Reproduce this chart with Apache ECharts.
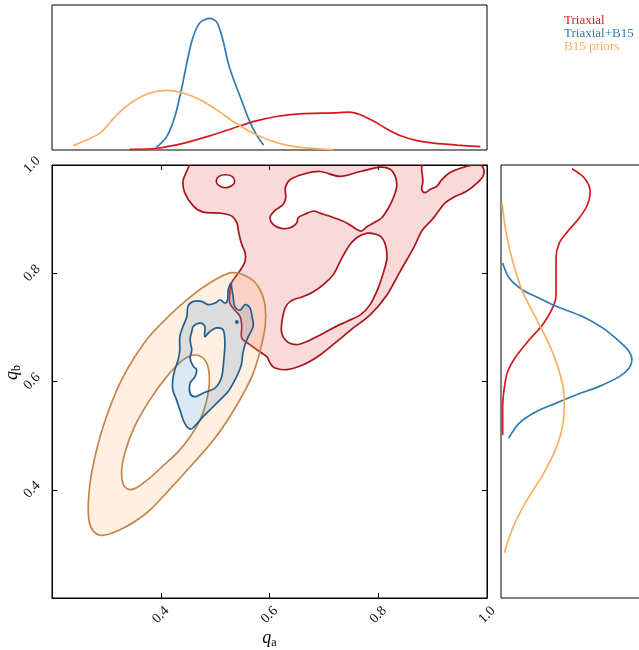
<!DOCTYPE html>
<html><head><meta charset="utf-8">
<script src="https://cdn.jsdelivr.net/npm/echarts@6/dist/echarts.min.js"></script>
<style>html,body{margin:0;padding:0;background:#fff}#c{width:639px;height:650px}</style>
</head><body><div id="c"></div>
<script>
// ---------- data (q_a, q_b values) ----------
const tickValues = [0.2, 0.4, 0.6, 0.8, 1.0];
const seriesNames = ['Triaxial', 'Triaxial+B15', 'B15 priors'];

// 2D contours (outer = 2-sigma, inner = 1-sigma holes)
const redOuter = [[0.469,1.03],[0.448,0.989],[0.441,0.970],[0.444,0.949],[0.460,0.924],[0.478,0.913],[0.509,0.911],[0.530,0.906],[0.540,0.893],[0.544,0.872],[0.549,0.853],[0.555,0.838],[0.555,0.822],[0.549,0.810],[0.543,0.801],[0.530,0.782],[0.527,0.763],[0.527,0.745],[0.536,0.732],[0.546,0.720],[0.549,0.702],[0.549,0.680],[0.564,0.668],[0.582,0.655],[0.595,0.646],[0.601,0.634],[0.610,0.625],[0.632,0.622],[0.662,0.631],[0.693,0.649],[0.724,0.674],[0.754,0.699],[0.785,0.723],[0.816,0.760],[0.840,0.803],[0.865,0.847],[0.880,0.878],[0.899,0.899],[0.911,0.915],[0.923,0.930],[0.938,0.940],[0.963,0.952],[0.982,0.967],[0.993,0.980],[0.994,0.992],[0.988,1.0],[0.975,1.0],[0.951,0.994],[0.932,0.986],[0.917,0.973],[0.908,0.961],[0.896,0.955],[0.886,0.949],[0.880,0.955],[0.882,0.970],[0.880,0.989],[0.871,1.03],[0.75,1.04],[0.62,1.04],[0.50,1.04]];
const redHoleUpper = [[0.693,0.988],[0.730,0.979],[0.767,0.988],[0.804,0.996],[0.822,0.992],[0.831,0.980],[0.834,0.961],[0.828,0.940],[0.819,0.921],[0.807,0.903],[0.797,0.896],[0.779,0.886],[0.767,0.878],[0.742,0.893],[0.717,0.903],[0.693,0.911],[0.681,0.915],[0.665,0.909],[0.653,0.903],[0.650,0.893],[0.638,0.884],[0.622,0.883],[0.607,0.890],[0.601,0.903],[0.610,0.916],[0.625,0.927],[0.630,0.940],[0.629,0.958],[0.638,0.973],[0.662,0.983]];
const redHoleLower = [[0.770,0.871],[0.785,0.874],[0.804,0.868],[0.813,0.853],[0.816,0.828],[0.810,0.803],[0.800,0.773],[0.785,0.742],[0.767,0.723],[0.742,0.711],[0.717,0.699],[0.693,0.686],[0.669,0.674],[0.650,0.668],[0.632,0.674],[0.622,0.692],[0.625,0.723],[0.632,0.742],[0.644,0.751],[0.662,0.757],[0.681,0.766],[0.699,0.779],[0.717,0.797],[0.733,0.828],[0.748,0.853],[0.761,0.866]];
const redHoleSmall = [[0.536,0.970],[0.531,0.979],[0.519,0.982],[0.507,0.979],[0.502,0.970],[0.507,0.962],[0.519,0.958],[0.531,0.962]];

const blueOuter = [[0.529,0.782],[0.524,0.769],[0.523,0.751],[0.518,0.745],[0.509,0.751],[0.500,0.745],[0.487,0.742],[0.475,0.748],[0.460,0.748],[0.450,0.739],[0.448,0.720],[0.441,0.702],[0.435,0.683],[0.435,0.658],[0.432,0.640],[0.426,0.622],[0.422,0.603],[0.422,0.585],[0.429,0.566],[0.435,0.548],[0.444,0.523],[0.454,0.512],[0.463,0.518],[0.478,0.535],[0.494,0.551],[0.509,0.566],[0.525,0.583],[0.540,0.610],[0.548,0.630],[0.551,0.652],[0.555,0.668],[0.561,0.683],[0.570,0.702],[0.568,0.720],[0.564,0.736],[0.555,0.742],[0.546,0.732],[0.536,0.739],[0.533,0.757],[0.530,0.776]];
const blueInner = [[0.460,0.702],[0.472,0.708],[0.481,0.702],[0.481,0.683],[0.490,0.692],[0.503,0.699],[0.515,0.695],[0.518,0.671],[0.516,0.640],[0.512,0.609],[0.500,0.588],[0.481,0.580],[0.463,0.572],[0.454,0.578],[0.454,0.597],[0.463,0.609],[0.466,0.622],[0.460,0.628],[0.454,0.643],[0.457,0.658],[0.454,0.677],[0.457,0.692]];
const blueDot = [[0.538,0.710],[0.540,0.712],[0.542,0.710],[0.540,0.708]];

const orangeOuter = [[0.530,0.801],[0.564,0.791],[0.583,0.769],[0.592,0.739],[0.592,0.702],[0.583,0.658],[0.570,0.615],[0.552,0.578],[0.527,0.535],[0.497,0.492],[0.460,0.449],[0.423,0.408],[0.374,0.357],[0.325,0.326],[0.288,0.316],[0.269,0.338],[0.268,0.394],[0.279,0.461],[0.300,0.535],[0.331,0.609],[0.374,0.677],[0.417,0.723],[0.454,0.756],[0.490,0.782]];
const orangeInner = [[0.463,0.649],[0.481,0.640],[0.489,0.615],[0.487,0.578],[0.475,0.535],[0.454,0.498],[0.430,0.468],[0.406,0.446],[0.380,0.422],[0.352,0.402],[0.334,0.405],[0.328,0.431],[0.334,0.468],[0.352,0.517],[0.380,0.566],[0.411,0.609],[0.441,0.640]];

// 1D marginals: top panel [q_a, density], right panel [density, q_b]
const margTopRed = [[0.343,0.004],[0.392,0.012],[0.441,0.046],[0.490,0.097],[0.533,0.150],[0.570,0.196],[0.613,0.231],[0.656,0.249],[0.717,0.256],[0.748,0.261],[0.767,0.243],[0.791,0.200],[0.816,0.145],[0.840,0.100],[0.871,0.065],[0.902,0.048],[0.945,0.034],[0.988,0.023]];
const margTopBlue = [[0.392,0.018],[0.411,0.092],[0.426,0.231],[0.438,0.416],[0.448,0.601],[0.459,0.774],[0.472,0.878],[0.490,0.908],[0.503,0.882],[0.514,0.762],[0.524,0.601],[0.533,0.497],[0.546,0.369],[0.561,0.220],[0.576,0.104],[0.589,0.035]];
const margTopOrange = [[0.239,0.030],[0.288,0.116],[0.319,0.243],[0.349,0.335],[0.380,0.393],[0.411,0.411],[0.441,0.393],[0.472,0.347],[0.503,0.277],[0.533,0.196],[0.564,0.127],[0.595,0.074],[0.625,0.039],[0.656,0.018],[0.717,0.002]];
const margRightRed = [[0.517,0.993],[0.607,0.976],[0.650,0.951],[0.631,0.927],[0.570,0.902],[0.485,0.877],[0.425,0.856],[0.401,0.828],[0.401,0.791],[0.401,0.760],[0.376,0.736],[0.303,0.705],[0.206,0.677],[0.109,0.646],[0.048,0.618],[0.024,0.588],[0.012,0.551],[0.012,0.501]];
const margRightBlue = [[0.012,0.819],[0.060,0.791],[0.157,0.769],[0.279,0.754],[0.401,0.739],[0.594,0.720],[0.740,0.699],[0.862,0.674],[0.934,0.655],[0.954,0.640],[0.934,0.625],[0.862,0.609],[0.716,0.591],[0.546,0.575],[0.401,0.560],[0.255,0.544],[0.133,0.523],[0.055,0.495]];
const margRightOrange = [[0.007,0.930],[0.036,0.877],[0.085,0.822],[0.157,0.766],[0.255,0.717],[0.352,0.668],[0.425,0.618],[0.461,0.569],[0.454,0.526],[0.401,0.477],[0.303,0.427],[0.182,0.378],[0.085,0.329],[0.024,0.283]];

// ---------- styling ----------
const FONT = '"Liberation Serif", "DejaVu Serif", serif';
const COL = {red:'#d7191c', blue:'#2c7bb6', orange:'#fdae61'};
const LINE = {red:'#a8141a', blue:'#235f8e', orange:'#c3874b'};
const FILL = {red:'rgba(215,25,28,0.16)', blue:'rgba(44,123,182,0.17)', orange:'rgba(253,174,97,0.18)'};

function smoothRing(pts){
  const n = pts.length, f = v => v.toFixed(2);
  let s = 'M' + f(pts[0][0]) + ',' + f(pts[0][1]);
  const lim = (t, len) => { const m = Math.hypot(t[0], t[1]); if (m > len * 0.45 && m > 0) { const k = len * 0.45 / m; return [t[0]*k, t[1]*k]; } return t; };
  for (let i = 0; i < n; i++) {
    const p0 = pts[(i-1+n)%n], p1 = pts[i], p2 = pts[(i+1)%n], p3 = pts[(i+2)%n];
    const len = Math.hypot(p2[0]-p1[0], p2[1]-p1[1]);
    const t1 = lim([(p2[0]-p0[0])/6, (p2[1]-p0[1])/6], len);
    const t2 = lim([(p3[0]-p1[0])/6, (p3[1]-p1[1])/6], len);
    s += 'C' + f(p1[0]+t1[0]) + ',' + f(p1[1]+t1[1]) + ',' + f(p2[0]-t2[0]) + ',' + f(p2[1]-t2[1]) + ',' + f(p2[0]) + ',' + f(p2[1]);
  }
  return s + 'Z';
}
function contourSeries(name, rings, key, z){
  return {
    type:'custom', name, coordinateSystem:'cartesian2d', xAxisIndex:1, yAxisIndex:1,
    clip:true, z, silent:true, data:[[0.6,0.6]],
    renderItem:(params, api) => {
      let d = '';
      rings.forEach((ring, i) => {
        let pts = ring.map(p => api.coord(p));
        let a = 0;
        for (let k = 0; k < pts.length; k++) { const p = pts[k], q = pts[(k+1)%pts.length]; a += p[0]*q[1] - q[0]*p[1]; }
        if ((a > 0) !== (i === 0)) pts = pts.slice().reverse();
        d += smoothRing(pts);
      });
      return {type:'path', shape:{pathData:d}, style:{fill:FILL[key], stroke:LINE[key], lineWidth:1.7}};
    }
  };
}
function margLine(name, data, key, xi, yi){
  return {type:'line', name, xAxisIndex:xi, yAxisIndex:yi, data, showSymbol:false, smooth:0.3,
    lineStyle:{color:COL[key], width:1.7}, itemStyle:{color:COL[key]}, z:4};
}

const labelStyle = {fontFamily:FONT, fontSize:14, color:'#111'};
const nameRich = {
  q:{fontFamily:FONT, fontSize:18, fontStyle:'italic', lineHeight:22, verticalAlign:'middle', color:'#000'},
  s:{fontFamily:FONT, fontSize:12, lineHeight:12, verticalAlign:'bottom', color:'#000'}
};
const lo = tickValues[0], hi = tickValues[tickValues.length-1], step = tickValues[1]-tickValues[0];
const mainAxisCommon = {
  type:'value', gridIndex:1, min:lo, max:hi, interval:step,
  axisLine:{show:true, onZero:false, lineStyle:{color:'#000', width:1}},
  axisTick:{show:true, inside:true, length:5, lineStyle:{color:'#000', width:1}},
  splitLine:{show:false}
};

const chart = echarts.init(document.getElementById('c'), null, {renderer:'canvas'});
chart.setOption({
  animation:false,
  backgroundColor:'#fff',
  grid:[
    {left:52, top:5, width:435, height:145, show:true, borderColor:'#000', borderWidth:1, outerBoundsMode:'none', containLabel:false},
    {left:52, top:165, width:435, height:433, show:true, borderColor:'#000', borderWidth:1, outerBoundsMode:'none', containLabel:false},
    {left:501, top:165, width:140, height:433, show:true, borderColor:'#000', borderWidth:1, outerBoundsMode:'none', containLabel:false}
  ],
  legend:{
    orient:'vertical', left:559, top:14, itemWidth:0, itemHeight:13, itemGap:0, icon:'none', padding:0,
    selectedMode:false, textStyle:{fontFamily:FONT, fontSize:13},
    data:[
      {name:seriesNames[0], textStyle:{color:COL.red}},
      {name:seriesNames[1], textStyle:{color:COL.blue}},
      {name:seriesNames[2], textStyle:{color:COL.orange}}
    ]
  },
  xAxis:[
    {type:'value', gridIndex:0, min:lo, max:hi, show:false},
    Object.assign({}, mainAxisCommon, {
      position:'bottom',
      axisLabel:Object.assign({show:true, rotate:45, showMinLabel:false, margin:17, align:'center', verticalAlign:'middle', formatter:v => v.toFixed(1)}, labelStyle),
      name:'{q|q}{s|a}', nameLocation:'middle', nameGap:40, nameMoveOverlap:false,
      nameTextStyle:{align:'center', verticalAlign:'middle', rich:nameRich}
    }),
    Object.assign({}, mainAxisCommon, {position:'top', axisLabel:{show:false}}),
    {type:'value', gridIndex:2, min:0, max:1.02, show:false}
  ],
  yAxis:[
    {type:'value', gridIndex:0, min:0, max:1, show:false},
    Object.assign({}, mainAxisCommon, {
      position:'left',
      axisLabel:Object.assign({show:true, rotate:45, showMinLabel:false, margin:20, align:'center', verticalAlign:'middle', formatter:v => v.toFixed(1)}, labelStyle),
      name:'{q|q}{s|b}', nameLocation:'middle', nameGap:40, nameRotate:90, nameMoveOverlap:false,
      nameTextStyle:{align:'center', verticalAlign:'middle', padding:[0,0,0,18], rich:nameRich}
    }),
    Object.assign({}, mainAxisCommon, {position:'right', axisLabel:{show:false}}),
    {type:'value', gridIndex:2, min:lo, max:hi, show:false}
  ],
  series:[
    contourSeries(seriesNames[0], [redOuter, redHoleUpper, redHoleLower, redHoleSmall], 'red', 1),
    contourSeries(seriesNames[2], [orangeOuter, orangeInner], 'orange', 2),
    contourSeries(seriesNames[1], [blueOuter, blueInner, blueDot], 'blue', 3),
    margLine(seriesNames[0], margTopRed, 'red', 0, 0),
    margLine(seriesNames[1], margTopBlue, 'blue', 0, 0),
    margLine(seriesNames[2], margTopOrange, 'orange', 0, 0),
    margLine(seriesNames[0], margRightRed, 'red', 3, 3),
    margLine(seriesNames[1], margRightBlue, 'blue', 3, 3),
    margLine(seriesNames[2], margRightOrange, 'orange', 3, 3)
  ]
});
</script>
</body></html>
